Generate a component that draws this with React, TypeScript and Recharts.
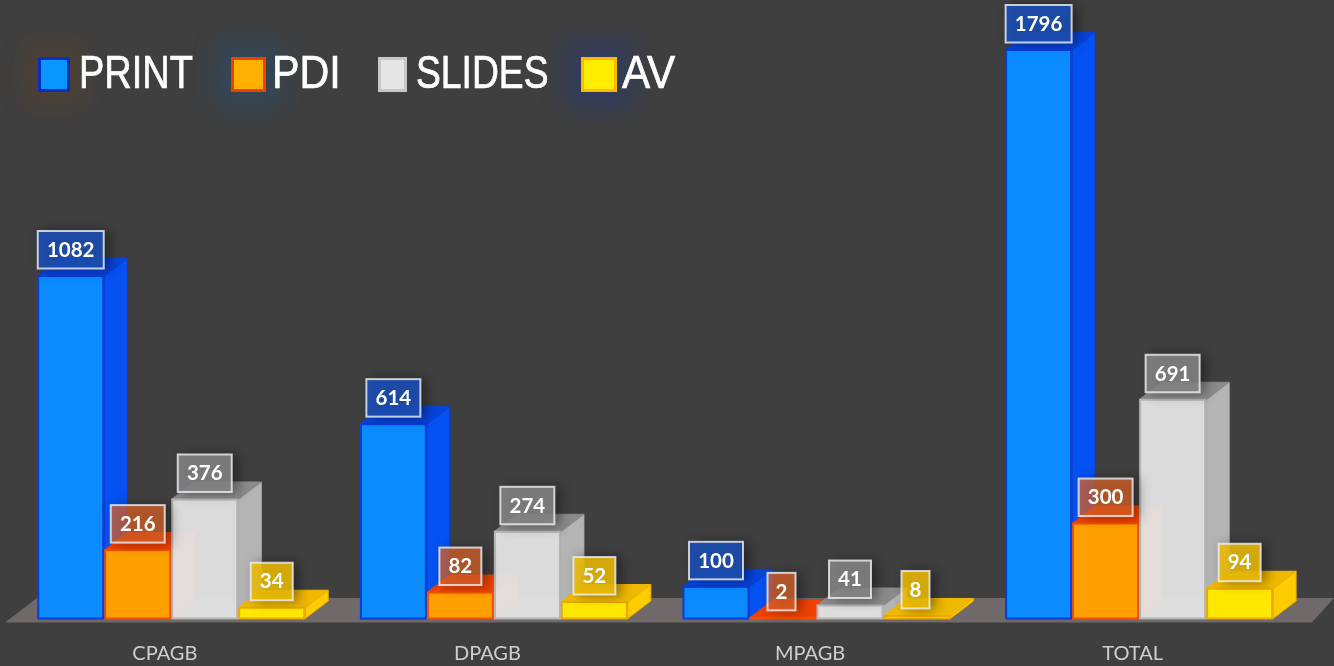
import React from "react";
import { BarChart, Bar, XAxis, YAxis, LabelList, Legend, ReferenceArea } from "recharts";

const categories = ["CPAGB", "DPAGB", "MPAGB", "TOTAL"];
const printValues = [1082, 614, 100, 1796];
const pdiValues = [216, 82, 2, 300];
const slidesValues = [376, 274, 41, 691];
const avValues = [34, 52, 8, 94];
const seriesNames = ["PRINT", "PDI", "SLIDES", "AV"];

const data = categories.map((name, i) => ({
  name,
  PRINT: printValues[i],
  PDI: pdiValues[i],
  SLIDES: slidesValues[i],
  AV: avValues[i],
}));

const DX = 23;
const DY = -17.5;
const LABEL_FONT = "Lato, sans-serif";

type Style = {
  front: string; frontOpacity?: number; border: string; top: string; side: string; boxFill: string;
  swatchFill: string; swatchBorder: string;
  swatchLeft: number; swatchW: number; textLeft: number; textScale: number; glow: string;
};
const styles: Record<string, Style> = {
  PRINT: { front: "#0a8cff", border: "#0a3cd8", top: "#0744dc", side: "#0552f2", boxFill: "rgba(28,78,178,0.9)", swatchFill: "#0a96ff", swatchBorder: "#0a2ec0", swatchLeft: 38, swatchW: 32, textLeft: 79, textScale: 0.826, glow: "rgba(170,90,10,0.12)" },
  PDI: { front: "#ffa000", border: "#f25000", top: "#f04200", side: "#ff5a00", boxFill: "rgba(225,100,40,0.72)", swatchFill: "#ffb000", swatchBorder: "#f04000", swatchLeft: 231, swatchW: 35, textLeft: 272, textScale: 0.896, glow: "rgba(0,110,190,0.2)" },
  SLIDES: { front: "#e2e2e2", frontOpacity: 0.96, border: "#b5b5b5", top: "#8b8b8b", side: "#b4b4b4", boxFill: "rgba(135,135,135,0.85)", swatchFill: "#e6e6e6", swatchBorder: "#c8c8c8", swatchLeft: 378, swatchW: 29, textLeft: 416, textScale: 0.81, glow: "rgba(0,0,0,0)" },
  AV: { front: "#ffe800", border: "#eaaa00", top: "#f0b900", side: "#ffcc00", boxFill: "rgba(240,190,5,0.85)", swatchFill: "#ffee00", swatchBorder: "#ffb800", swatchLeft: 581, swatchW: 36, textLeft: 622, textScale: 0.918, glow: "rgba(10,50,190,0.24)" },
};

const boxWidths: Record<number, number> = { 1: 28, 2: 42, 3: 54, 4: 66 };

const makeShape = (key: string) => (props: any) => {
  const { x, y, width, height } = props;
  const s = styles[key];
  const r = x + width;
  const b = y + height;
  return (
    <g>
      <polygon points={`${r},${y} ${r + DX},${y + DY} ${r + DX},${b + DY} ${r},${b}`} fill={s.side} stroke={s.border} strokeWidth={1} />
      <polygon points={`${x},${y} ${x + DX},${y + DY} ${r + DX},${y + DY} ${r},${y}`} fill={s.top} stroke={s.top} strokeWidth={1} />
      <rect x={x + 1} y={y} width={width - 2} height={height} fill={s.front} fillOpacity={s.frontOpacity ?? 1} stroke={s.border} strokeWidth={2} />
    </g>
  );
};

const makeLabel = (key: string) => (props: any) => {
  const { x, y, width, value } = props;
  const s = styles[key];
  const w = boxWidths[String(value).length];
  const cx = x + width / 2 - (w < 40 ? 1.5 : 0);
  const h = 37.5;
  const top = y - 7.5 - h;
  return (
    <g>
      <rect x={cx - w / 2} y={top} width={w} height={h} fill={s.boxFill} stroke="rgba(235,238,245,0.82)" strokeWidth={2}
        style={{ filter: "drop-shadow(5px 1px 6px rgba(0,0,0,0.45))" }} />
      <text x={cx} y={top + h / 2 + 7} textAnchor="middle" fill="#ffffff" fontFamily={LABEL_FONT} fontWeight={700} fontSize={20.5}>
        {value}
      </text>
    </g>
  );
};

const Floor = (props: any) => {
  const { x, y, width, height } = props;
  const r = x + width;
  const b = y + height;
  return (
    <polygon points={`${x - 4.5},${b} ${r + 12},${b} ${r + 34},${y} ${x + 27.5},${y}`} fill="#6f6969" />
  );
};

const Tick = (props: any) => {
  const { x, y, payload } = props;
  return (
    <text x={x - 6} y={y + 33} textAnchor="middle" fill="#cfcfcf" fontFamily={LABEL_FONT} fontSize={20}>
      {payload.value}
    </text>
  );
};

const LegendContent = () => (
  <div style={{ position: "relative", width: 700, height: 60 }}>
    {seriesNames.map((n) => {
      const s = styles[n];
      return (
        <React.Fragment key={n}>
          <div style={{ position: "absolute", left: s.swatchLeft, top: 0, width: s.swatchW - 6, height: 29, background: s.swatchFill, border: `3px solid ${s.swatchBorder}`, boxShadow: `0 0 24px 16px ${s.glow}` }} />
          <div style={{ position: "absolute", left: s.textLeft, top: -11, color: "#ffffff", fontFamily: "'Liberation Sans', sans-serif", fontSize: 46, lineHeight: "52px", transform: `scaleX(${s.textScale})`, transformOrigin: "left center", WebkitTextStroke: "0.7px #ffffff" }}>{n}</div>
        </React.Fragment>
      );
    })}
  </div>
);

export default function App() {
  return (
    <div style={{ position: "absolute", left: 0, top: 0, width: 1334, height: 666, background: "#3f3f3f", overflow: "hidden" }}>
      <div style={{ filter: "blur(0.6px)" }}>
        <BarChart width={1334} height={666} data={data} margin={{ top: 50, right: 34, bottom: 0, left: 9.5 }} barCategoryGap="8.6%" barGap={0}>
          <XAxis dataKey="name" axisLine={false} tickLine={false} height={47.5} tick={<Tick />} interval={0} />
          <YAxis hide domain={[0, 1796]} />
          <ReferenceArea y1={-13} y2={65} ifOverflow="visible" shape={<Floor />} />
          <Legend content={<LegendContent />} wrapperStyle={{ left: 0, top: 57, width: 700, height: 60 }} layout="horizontal" verticalAlign="middle" />
          {seriesNames.map((n) => (
            <Bar key={n} dataKey={n} isAnimationActive={false} shape={makeShape(n)}>
              <LabelList dataKey={n} content={makeLabel(n)} />
            </Bar>
          ))}
        </BarChart>
      </div>
    </div>
  );
}
